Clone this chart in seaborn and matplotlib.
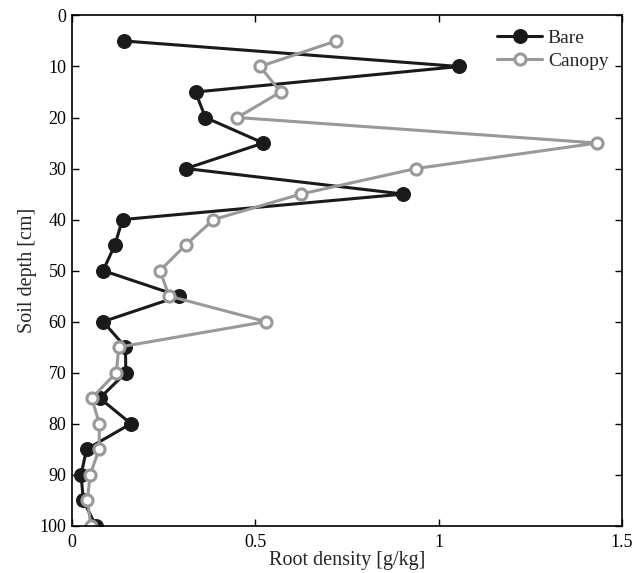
import pandas as pd
import seaborn as sns
import matplotlib
matplotlib.use("Agg")
import matplotlib.pyplot as plt

# soil depth [cm]
DEPTH = [5, 10, 15, 20, 25, 30, 35, 40, 45, 50,
         55, 60, 65, 70, 75, 80, 85, 90, 95, 100]

# root density [g/kg]
BARE = [0.143, 1.056, 0.337, 0.364, 0.522, 0.311, 0.904, 0.138, 0.117, 0.085,
        0.293, 0.085, 0.146, 0.147, 0.076, 0.161, 0.040, 0.025, 0.031, 0.065]
CANOPY = [0.720, 0.513, 0.569, 0.451, 1.432, 0.938, 0.624, 0.386, 0.310, 0.240,
          0.265, 0.529, 0.128, 0.121, 0.054, 0.075, 0.074, 0.050, 0.042, 0.052]

X_TICKS = [0, 0.5, 1, 1.5]
X_TICKLABELS = ["0", "0.5", "1", "1.5"]
Y_TICKS = list(range(0, 101, 10))

df = pd.DataFrame({"depth": DEPTH, "Bare": BARE, "Canopy": CANOPY})

sns.set_style("ticks")
plt.rcParams["font.family"] = ["Liberation Serif", "DejaVu Serif"]
plt.rcParams["font.size"] = 13

fig = plt.figure(figsize=(6.42, 5.73), dpi=100)
ax = fig.add_axes([0.112, 0.0825, 0.857, 0.8905])

sns.lineplot(
    data=df, x="Bare", y="depth", sort=False, orient="y",
    color="#1a1a1a", linewidth=2.2, marker="o", markersize=10,
    markeredgecolor="#1a1a1a", markerfacecolor="#1a1a1a",
    label="Bare", ax=ax
)
sns.lineplot(
    data=df, x="Canopy", y="depth", sort=False, orient="y",
    color="#999999", linewidth=2.2, marker="o", markersize=8,
    markeredgecolor="#999999", markerfacecolor="white", markeredgewidth=2.2,
    label="Canopy", ax=ax
)

ax.set_xlim(0, 1.5)
ax.set_ylim(100, 0)
ax.set_xticks(X_TICKS)
ax.set_xticklabels(X_TICKLABELS)
ax.set_yticks(Y_TICKS)
ax.tick_params(direction="in", top=True, right=True, length=5, width=1,
               labelsize=13, colors="black")
ax.tick_params(axis="x", pad=6)
ax.tick_params(axis="y", pad=4)
for s in ax.spines.values():
    s.set_linewidth(1.2)
    s.set_color("black")

ax.set_xlabel("Root density [g/kg]", fontsize=14.5, labelpad=0)
ax.set_ylabel("Soil depth [cm]", fontsize=14.5, labelpad=2)

leg = ax.legend(loc="upper right", frameon=False, fontsize=14,
                handlelength=2.3, handletextpad=0.3, labelspacing=0.3,
                borderaxespad=0.3)

fig.savefig("out.png", dpi=100)
